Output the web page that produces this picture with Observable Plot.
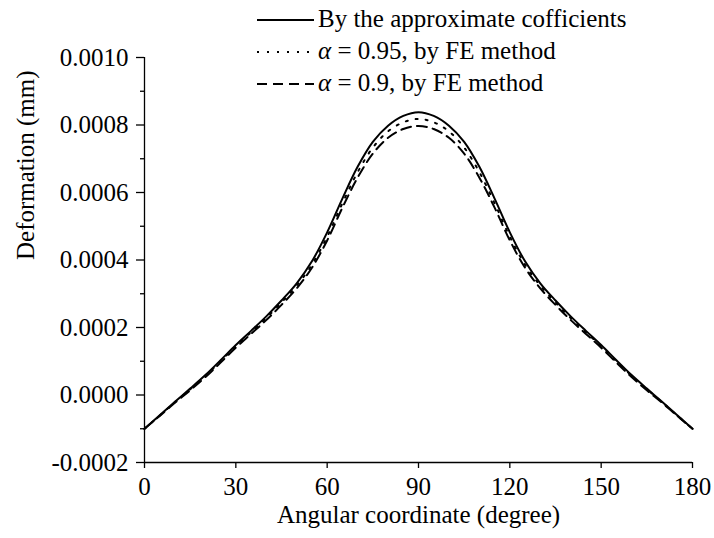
<!DOCTYPE html>
<html><head><meta charset="utf-8">
<script src="https://cdn.jsdelivr.net/npm/d3@7"></script>
<script src="https://cdn.jsdelivr.net/npm/@observablehq/plot@0.6"></script>
<style>
html,body{margin:0;padding:0;background:#fff;}
#wrap{position:relative;width:714px;height:538px;font-family:"Liberation Serif","Times New Roman",serif;color:#000;}
#legend{position:absolute;left:257px;top:4px;font-size:25px;font-family:"Liberation Serif","Times New Roman",serif;}
.row{display:flex;align-items:center;height:32px;white-space:nowrap;}
.row svg{display:block;}
.row span.t{margin-left:4px;position:relative;top:-1px;}
i{font-style:italic;}
</style></head><body><div id="wrap"><div id="legend"></div></div>
<script>
// ---- data ----
const angles = [0,5,10,15,20,25,30,35,40,45,50,55,60,65,70,75,80,85,90,95,100,105,110,115,120,125,130,135,140,145,150,155,160,165,170,175,180];
const solidValues = [-0.000100,-0.000060,-0.000020,0.000019,0.000059,0.000103,0.000148,0.000190,0.000233,0.000280,0.000331,0.000396,0.000482,0.000582,0.000676,0.000750,0.000798,0.000827,0.000838,0.000827,0.000798,0.000750,0.000676,0.000582,0.000482,0.000396,0.000331,0.000280,0.000233,0.000190,0.000148,0.000103,0.000059,0.000019,-0.000020,-0.000060,-0.000100];
const alpha095Values = [-0.000100,-0.000061,-0.000021,0.000017,0.000057,0.000100,0.000145,0.000186,0.000228,0.000274,0.000324,0.000386,0.000469,0.000568,0.000660,0.000733,0.000781,0.000808,0.000818,0.000808,0.000781,0.000733,0.000660,0.000568,0.000469,0.000386,0.000324,0.000274,0.000228,0.000186,0.000145,0.000100,0.000057,0.000017,-0.000021,-0.000061,-0.000100];
const alpha09Values = [-0.000100,-0.000062,-0.000023,0.000014,0.000053,0.000096,0.000140,0.000181,0.000222,0.000267,0.000316,0.000377,0.000458,0.000555,0.000644,0.000715,0.000762,0.000788,0.000797,0.000788,0.000762,0.000715,0.000644,0.000555,0.000458,0.000377,0.000316,0.000267,0.000222,0.000181,0.000140,0.000096,0.000053,0.000014,-0.000023,-0.000062,-0.000100];
const xTicks = [0,30,60,90,120,150,180];
const yTicks = [-0.0002,0,0.0002,0.0004,0.0006,0.0008,0.0010];
const yMinorTicks = [-0.0001,0.0001,0.0003,0.0005,0.0007,0.0009];
const xLabel = "Angular coordinate (degree)";
const yLabel = "Deformation (mm)";
const legendLabels = ["By the approximate cofficients", "= 0.95, by FE method", "= 0.9, by FE method"];
const legendPrefix = ["", "α", "α"];

// ---- build ----
const toRows = vals => angles.map((a, i) => ({angle: a, value: vals[i]}));
const dashes = ["none", "2,8", "10,6"];
const serif = '"Liberation Serif","Times New Roman",serif';

const chart = Plot.plot({
  width: 714, height: 538,
  marginLeft: 144, marginRight: 22, marginTop: 57, marginBottom: 76,
  x: {domain: [0, 180]},
  y: {domain: [-0.0002, 0.001]},
  style: {fontFamily: serif, fontSize: "25px", color: "#000", background: "white", overflow: "visible"},
  marks: [
    Plot.axisX(xTicks, {tickSize: 6, tickPadding: 9, tickFormat: d => String(d), label: null, strokeWidth: 1.3, fontFamily: serif}),
    Plot.axisY(yTicks, {tickSize: 8, tickPadding: 8, tickFormat: d => d.toFixed(4), label: null, strokeWidth: 1.3, fontFamily: serif}),
    Plot.axisY(yMinorTicks, {tickSize: 4, tickFormat: () => "", label: null, strokeWidth: 1.3}),
    Plot.ruleX([0], {stroke: "#000", strokeWidth: 1.3}),
    Plot.ruleY([-0.0002], {stroke: "#000", strokeWidth: 1.3}),
    Plot.line(toRows(alpha09Values), {x: "angle", y: "value", curve: "catmull-rom", stroke: "#000", strokeWidth: 2, strokeDasharray: dashes[2]}),
    Plot.line(toRows(alpha095Values), {x: "angle", y: "value", curve: "catmull-rom", stroke: "#000", strokeWidth: 2, strokeDasharray: dashes[1]}),
    Plot.line(toRows(solidValues), {x: "angle", y: "value", curve: "catmull-rom", stroke: "#000", strokeWidth: 2}),
    Plot.text([xLabel], {frameAnchor: "bottom", dy: 60, fill: "#000", fontSize: 25, fontFamily: serif}),
    Plot.text([yLabel], {frameAnchor: "left", dx: -119, rotate: -90, fill: "#000", fontSize: 25, fontFamily: serif})
  ]
});
document.getElementById("wrap").appendChild(chart);

// legend
const legend = document.getElementById("legend");
legendLabels.forEach((lab, i) => {
  const row = document.createElement("div");
  row.className = "row";
  const dash = dashes[i] === "none" ? "" : ` stroke-dasharray="${dashes[i]}"`;
  row.innerHTML = `<svg width="57" height="32"><line x1="0" x2="57" y1="16" y2="16" stroke="#000" stroke-width="2.2"${dash}/></svg>` +
    `<span class="t">${legendPrefix[i] ? `<i>${legendPrefix[i]}</i> ` : ""}${lab}</span>`;
  legend.appendChild(row);
});
</script>
</body></html>
